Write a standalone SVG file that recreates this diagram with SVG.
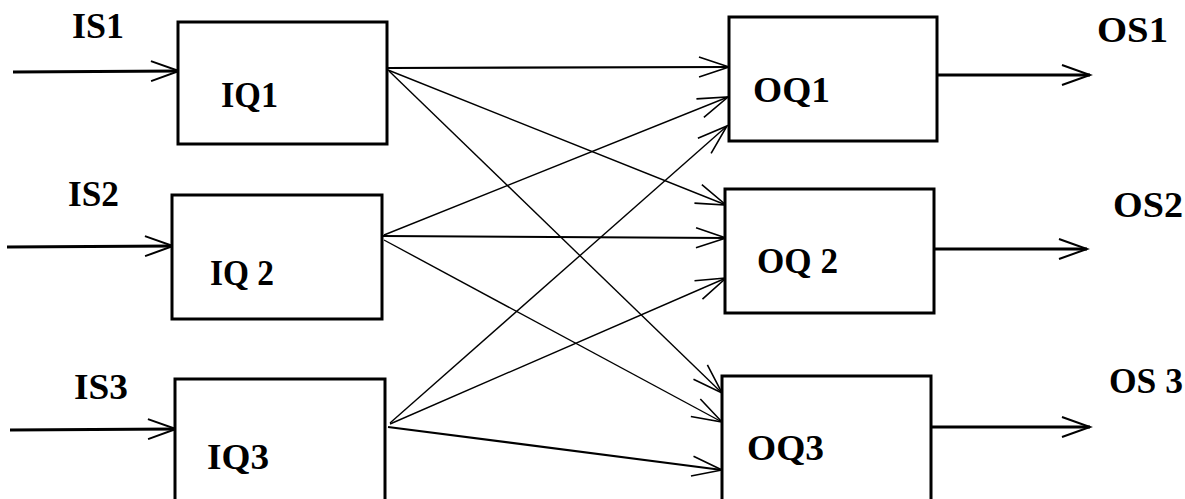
<svg xmlns="http://www.w3.org/2000/svg" width="1185" height="499" viewBox="0 0 1185 499">
<defs>
<style>
.box{fill:#fff;stroke:#000;stroke-width:3}
.thick{stroke:#000;stroke-width:3;fill:none}
.mid{stroke:#000;stroke-width:2.2;fill:none}
.thin{stroke:#000;stroke-width:1.4;fill:none}
.lbl{font-family:"Liberation Serif","Times New Roman",serif;font-weight:bold;font-size:35px;fill:#000}
</style>
<marker id="ah" markerUnits="userSpaceOnUse" viewBox="-32 -12 34 24" refX="0" refY="0" markerWidth="34" markerHeight="24" orient="auto" overflow="visible">
<path d="M-28,-10 L0,0 L-28,10" fill="none" stroke="#000" stroke-width="2"/>
</marker>
<marker id="ahs" markerUnits="userSpaceOnUse" viewBox="-32 -12 34 24" refX="0" refY="0" markerWidth="34" markerHeight="24" orient="auto" overflow="visible">
<path d="M-30,-10 L0,0 L-30,10" fill="none" stroke="#000" stroke-width="1.6"/>
</marker>
</defs>
<rect width="1185" height="499" fill="#fff"/>
<g id="connectors">
<line class="thick" x1="13" y1="72" x2="179" y2="71" marker-end="url(#ah)"/>
<line class="thick" x1="7" y1="247" x2="173" y2="246" marker-end="url(#ah)"/>
<line class="thick" x1="10" y1="430" x2="176" y2="429" marker-end="url(#ah)"/>
<line class="thick" x1="937" y1="75" x2="1090" y2="75" marker-end="url(#ah)"/>
<line class="thick" x1="932" y1="249" x2="1087" y2="249" marker-end="url(#ah)"/>
<line class="thick" x1="931" y1="427" x2="1090" y2="427" marker-end="url(#ah)"/>
<line class="mid" x1="387" y1="68" x2="729" y2="67" marker-end="url(#ahs)"/>
<line class="thin" x1="388" y1="70" x2="726" y2="205" marker-end="url(#ahs)"/>
<line class="thin" x1="389" y1="71" x2="722" y2="393" marker-end="url(#ahs)"/>
<line class="thin" x1="384" y1="235" x2="728" y2="97" marker-end="url(#ahs)"/>
<line class="mid" x1="383" y1="236" x2="726" y2="238" marker-end="url(#ahs)"/>
<line class="thin" x1="384" y1="240" x2="722" y2="422" marker-end="url(#ahs)"/>
<line class="thin" x1="390" y1="423" x2="727" y2="126" marker-end="url(#ahs)"/>
<line class="thin" x1="390" y1="424" x2="726" y2="278" marker-end="url(#ahs)"/>
<line class="mid" x1="388" y1="427" x2="722" y2="470" marker-end="url(#ahs)"/>
</g>
<g id="IS1"><text class="lbl" x="72" y="38" textLength="52" lengthAdjust="spacingAndGlyphs">IS1</text></g>
<g id="IS2"><text class="lbl" x="68" y="206" textLength="51" lengthAdjust="spacingAndGlyphs">IS2</text></g>
<g id="IS3"><text class="lbl" x="74" y="399" textLength="54" lengthAdjust="spacingAndGlyphs">IS3</text></g>
<g id="IQ1"><rect class="box" x="178" y="22" width="209" height="122"/><text class="lbl" x="221" y="107" textLength="57" lengthAdjust="spacingAndGlyphs">IQ1</text></g>
<g id="IQ2"><rect class="box" x="172" y="195" width="210" height="124"/><text class="lbl" x="210" y="285" textLength="64" lengthAdjust="spacingAndGlyphs">IQ 2</text></g>
<g id="IQ3"><rect class="box" x="175" y="379" width="210" height="130"/><text class="lbl" x="207" y="469" textLength="62" lengthAdjust="spacingAndGlyphs">IQ3</text></g>
<g id="OQ1"><rect class="box" x="729" y="17" width="208" height="124"/><text class="lbl" x="753" y="102" textLength="77" lengthAdjust="spacingAndGlyphs">OQ1</text></g>
<g id="OQ2"><rect class="box" x="725" y="189" width="209" height="124"/><text class="lbl" x="757" y="273" textLength="81" lengthAdjust="spacingAndGlyphs">OQ 2</text></g>
<g id="OQ3"><rect class="box" x="722" y="376" width="209" height="130"/><text class="lbl" x="747" y="460" textLength="77" lengthAdjust="spacingAndGlyphs">OQ3</text></g>
<g id="OS1"><text class="lbl" x="1097" y="42" textLength="71" lengthAdjust="spacingAndGlyphs">OS1</text></g>
<g id="OS2"><text class="lbl" x="1113" y="217" textLength="70" lengthAdjust="spacingAndGlyphs">OS2</text></g>
<g id="OS3"><text class="lbl" x="1109" y="393" textLength="74" lengthAdjust="spacingAndGlyphs">OS 3</text></g>
</svg>
